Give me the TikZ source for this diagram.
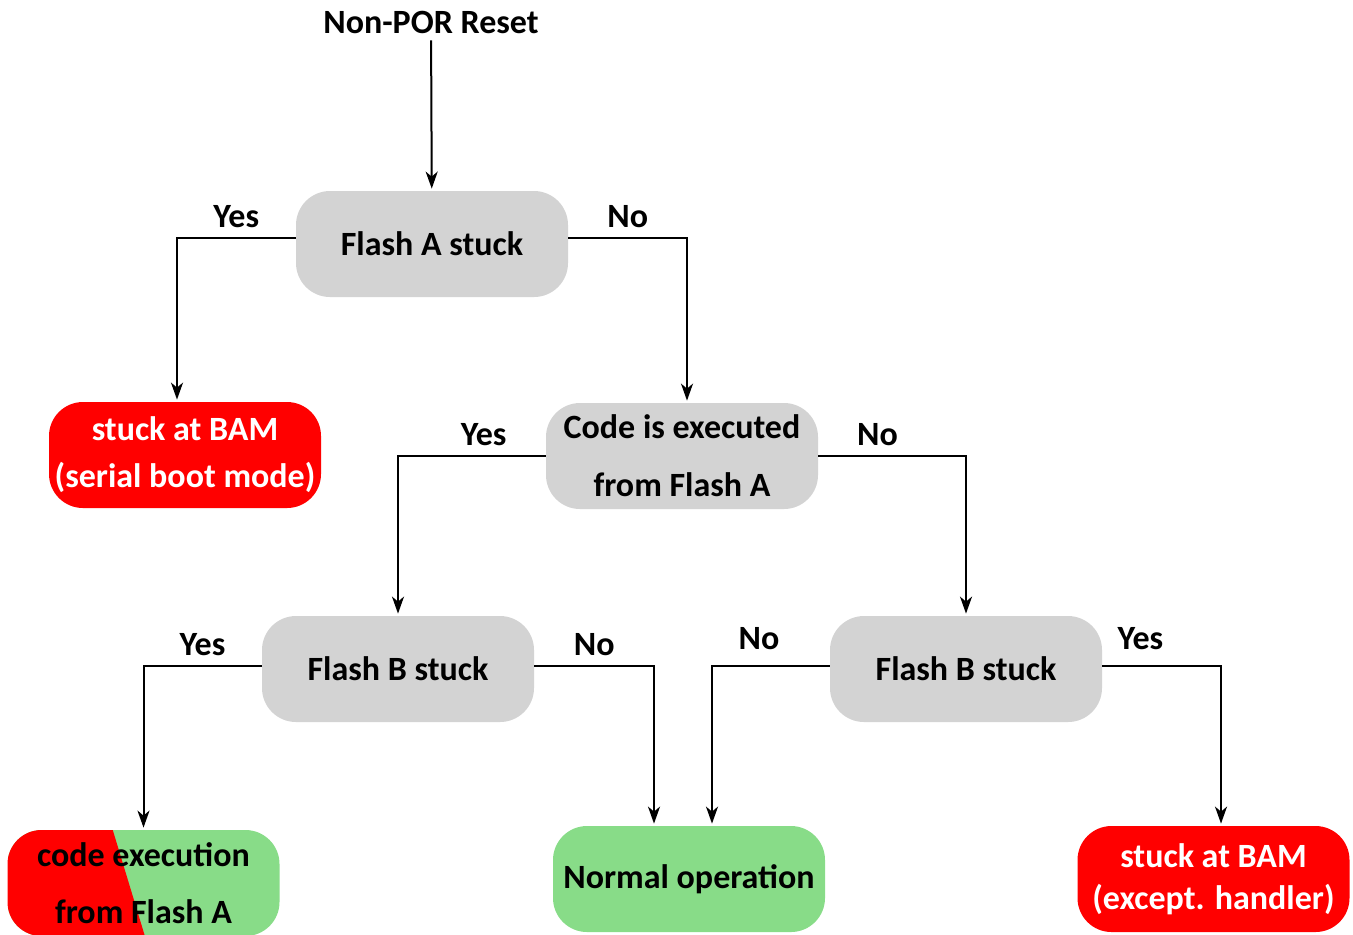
\documentclass[tikz,border=0pt]{standalone}
\usepackage{fontspec}
\setmainfont{Carlito}
\usetikzlibrary{arrows.meta,calc}
\definecolor{boxgray}{RGB}{211,211,211}
\definecolor{okgreen}{RGB}{136,220,136}
\definecolor{errred}{RGB}{255,0,0}
\newcommand{\fsz}[1]{\fontsize{17}{#1}\selectfont\bfseries}

\begin{document}
\begin{tikzpicture}[x=0.5pt,y=-0.5pt,
  box/.style={rounded corners=17pt,minimum width=136pt,minimum height=53pt,
    inner sep=0pt,align=center,font=\fsz{29}},
  query/.style={box,fill=boxgray},
  fail/.style={box,fill=errred,text=white},
  good/.style={box,fill=okgreen},
  arr/.style={-{Stealth[length=8.5pt,width=6pt,inset=2.5pt]},line width=1pt,shorten >=1pt},
  yn/.style={above,pos=0.25,yshift=1.5pt,font=\fsz{20}}]
\useasboundingbox (0,0) rectangle (1353,934);

\node[font=\fsz{20}] (reset) at (431,22) {Non-POR Reset};
\node[query] (fa) at (432,244) {Flash A stuck};
\node[fail,font=\fsz{23.5}] (bam) at (185,455) {stuck at BAM\\(serial boot mode)};
\node[query] (code) at (682,456) {Code is executed\\from Flash A};
\node[query] (fbl) at (398,669) {Flash B stuck};
\node[query] (fbr) at (966,669) {Flash B stuck};
\node[box,font=\fsz{28.5},
  path picture={
    \fill[okgreen,sharp corners] (path picture bounding box.south west) rectangle (path picture bounding box.north east);
    \fill[errred,sharp corners] (path picture bounding box.north west)
      -- ($(path picture bounding box.north west)!0.387!(path picture bounding box.north east)$)
      -- ($(path picture bounding box.south west)!0.505!(path picture bounding box.south east)$)
      -- (path picture bounding box.south west) -- cycle;
  }] (cex) at (143.5,883) {code execution\\from Flash A};
\node[good] (norm) at (689,879) {Normal operation};
\node[fail,font=\fsz{21}] (exc) at (1213.5,879) {stuck at BAM\\(except. handler)};

% decisions
\draw[arr] (reset) -- (fa);
\draw[arr] ([yshift=3pt]fa.west) -| node[yn]{Yes} ([xshift=-4pt]bam.north);
\draw[arr] ([yshift=3pt]fa.east) -| node[yn]{No} ([xshift=2.5pt]code.north);
\draw[arr] (code.west) -| node[yn,pos=0.21]{Yes} (fbl.north);
\draw[arr] (code.east) -| node[yn,pos=0.2]{No} (fbr.north);
\draw[arr] ([yshift=1.5pt]fbl.west) -| node[yn]{Yes} (cex.north);
\draw[arr] ([yshift=1.5pt]fbl.east) -| node[yn]{No} ([xshift=-17.5pt]norm.north);
\draw[arr] ([yshift=1.5pt]fbr.west) -| node[yn,pos=0.3,yshift=3pt]{No} ([xshift=11.5pt]norm.north);
\draw[arr] ([yshift=1.5pt]fbr.east) -| node[yn,pos=0.16,yshift=3pt]{Yes} ([xshift=3.75pt]exc.north);
\end{tikzpicture}
\end{document}
